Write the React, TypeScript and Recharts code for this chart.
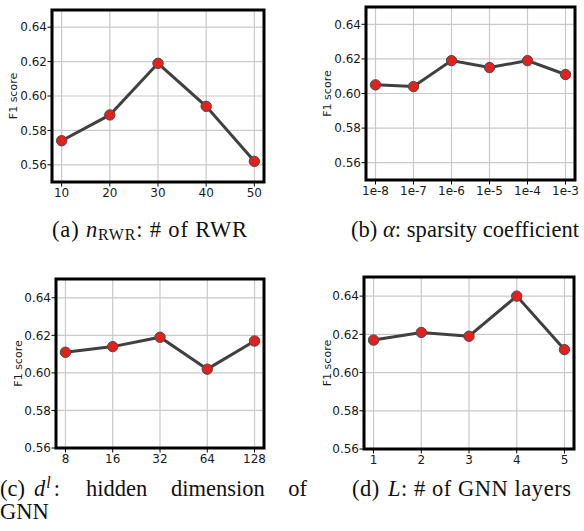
import React from 'react';
import { LineChart, Line, XAxis, YAxis, CartesianGrid, ReferenceArea } from 'recharts';

const rwrLabels = ['10', '20', '30', '40', '50'];
const rwrScores = [0.574, 0.589, 0.619, 0.594, 0.562];

const alphaLabels = ['1e-8', '1e-7', '1e-6', '1e-5', '1e-4', '1e-3'];
const alphaScores = [0.605, 0.604, 0.619, 0.615, 0.619, 0.611];

const dimLabels = ['8', '16', '32', '64', '128'];
const dimScores = [0.611, 0.614, 0.619, 0.602, 0.617];

const layerLabels = ['1', '2', '3', '4', '5'];
const layerScores = [0.617, 0.621, 0.619, 0.64, 0.612];

const yTicks = [0.56, 0.58, 0.6, 0.62, 0.64];
const yDomainTop = [0.55, 0.65];
const yDomainBottom = [0.56, 0.65];
const yLabel = 'F1 score';

const TICK_FONT = "'DejaVu Sans', sans-serif";

type PanelProps = {
  left: number;
  top: number;
  width: number;
  height: number;
  margin: { top: number; right: number; bottom: number; left: number };
  yAxisWidth: number;
  labels: string[];
  scores: number[];
  yDomain: number[];
  labelOffset: number;
};

function Panel(p: PanelProps) {
  const n = p.labels.length;
  const pad = 0.05 * (n - 1);
  const data = p.labels.map((lab, i) => ({ idx: i, name: lab, score: p.scores[i] }));
  const xTicks = p.labels.map((_, i) => i);
  const tickStyle = { fontSize: 12, fontFamily: TICK_FONT, fill: '#1a1a1a' };
  return (
    <div style={{ position: 'absolute', left: p.left, top: p.top }}>
      <LineChart width={p.width} height={p.height} data={data} margin={p.margin}>
        <CartesianGrid stroke="#c9c9c9" strokeWidth={1.2} />
        <XAxis
          dataKey="idx"
          type="number"
          domain={[-pad, n - 1 + pad]}
          allowDataOverflow
          ticks={xTicks}
          tickFormatter={(v: number) => p.labels[v]}
          axisLine={false}
          tickLine={{ stroke: '#000', strokeWidth: 1 }}
          tickSize={4.5}
          tickMargin={2}
          height={20}
          tick={tickStyle}
          interval={0}
        />
        <YAxis
          type="number"
          domain={p.yDomain}
          allowDataOverflow
          ticks={yTicks}
          tickFormatter={(v: number) => v.toFixed(2)}
          axisLine={false}
          tickLine={{ stroke: '#000', strokeWidth: 1 }}
          tickSize={4.5}
          tickMargin={0.5}
          width={p.yAxisWidth}
          tick={tickStyle}
          interval={0}
          label={{
            value: yLabel,
            angle: -90,
            position: 'insideLeft',
            offset: p.labelOffset,
            style: { textAnchor: 'middle', fontSize: 11, fontFamily: TICK_FONT, fill: '#1a1a1a' },
          }}
        />
        <ReferenceArea
          x1={-pad}
          x2={n - 1 + pad}
          y1={p.yDomain[0]}
          y2={p.yDomain[1]}
          fill="none"
          fillOpacity={0}
          stroke="#000"
          strokeWidth={3}
          ifOverflow="visible"
        />
        <Line
          dataKey="score"
          stroke="#404040"
          strokeWidth={3}
          isAnimationActive={false}
          dot={{ r: 5.2, fill: '#e3201c', stroke: '#4a4a4a', strokeWidth: 1, fillOpacity: 1 }}
          activeDot={false}
        />
      </LineChart>
    </div>
  );
}

export default function App() {
  return (
    <div style={{ position: 'absolute', left: 0, top: 0, width: 584, height: 531, background: '#fff', overflow: 'hidden' }}>
      <Panel
        left={0}
        top={0}
        width={292}
        height={210}
        margin={{ top: 10, right: 28, bottom: 8, left: 0 }}
        yAxisWidth={52}
        labels={rwrLabels}
        scores={rwrScores}
        yDomain={yDomainTop}
        labelOffset={13}
      />
      <Panel
        left={292}
        top={0}
        width={292}
        height={210}
        margin={{ top: 7, right: 9, bottom: 10, left: 0 }}
        yAxisWidth={74}
        labels={alphaLabels}
        scores={alphaScores}
        yDomain={yDomainTop}
        labelOffset={35}
      />
      <Panel
        left={0}
        top={260}
        width={292}
        height={220}
        margin={{ top: 19, right: 28, bottom: 12, left: 0 }}
        yAxisWidth={56}
        labels={dimLabels}
        scores={dimScores}
        yDomain={yDomainBottom}
        labelOffset={18}
      />
      <Panel
        left={292}
        top={260}
        width={292}
        height={220}
        margin={{ top: 17, right: 10, bottom: 11, left: 0 }}
        yAxisWidth={72}
        labels={layerLabels}
        scores={layerScores}
        yDomain={yDomainBottom}
        labelOffset={35}
      />
      <svg
        width={584}
        height={531}
        style={{ position: 'absolute', left: 0, top: 0, pointerEvents: 'none' }}
        fontFamily="'Liberation Serif', serif"
        fontSize={22.5}
        fill="#111"
      >
        <text x={52} y={237} textLength={195} lengthAdjust="spacing">
          (a) <tspan fontStyle="italic">n</tspan>
          <tspan fontSize={16} dy={3}>RWR</tspan>
          <tspan dy={-3}>: # of RWR</tspan>
        </text>
        <text x={351} y={237} textLength={228} lengthAdjust="spacing">
          (b) <tspan fontStyle="italic">α</tspan>: sparsity coefficient
        </text>
        <text x={0} y={496}>(c)</text>
        <text x={34} y={496}>
          <tspan fontStyle="italic">d</tspan>
          <tspan fontStyle="italic" fontSize={16} dx={1} dy={-8}>l</tspan>
          <tspan dx={3} dy={8}>:</tspan>
        </text>
        <text x={86} y={496}>hidden</text>
        <text x={171} y={496}>dimension</text>
        <text x={307} y={496} textAnchor="end">of</text>
        <text x={0} y={519}>GNN</text>
        <text x={352} y={496} textLength={219} lengthAdjust="spacing">
          (d)<tspan dx={8} fontStyle="italic">L</tspan>: # of GNN layers
        </text>
      </svg>
    </div>
  );
}
